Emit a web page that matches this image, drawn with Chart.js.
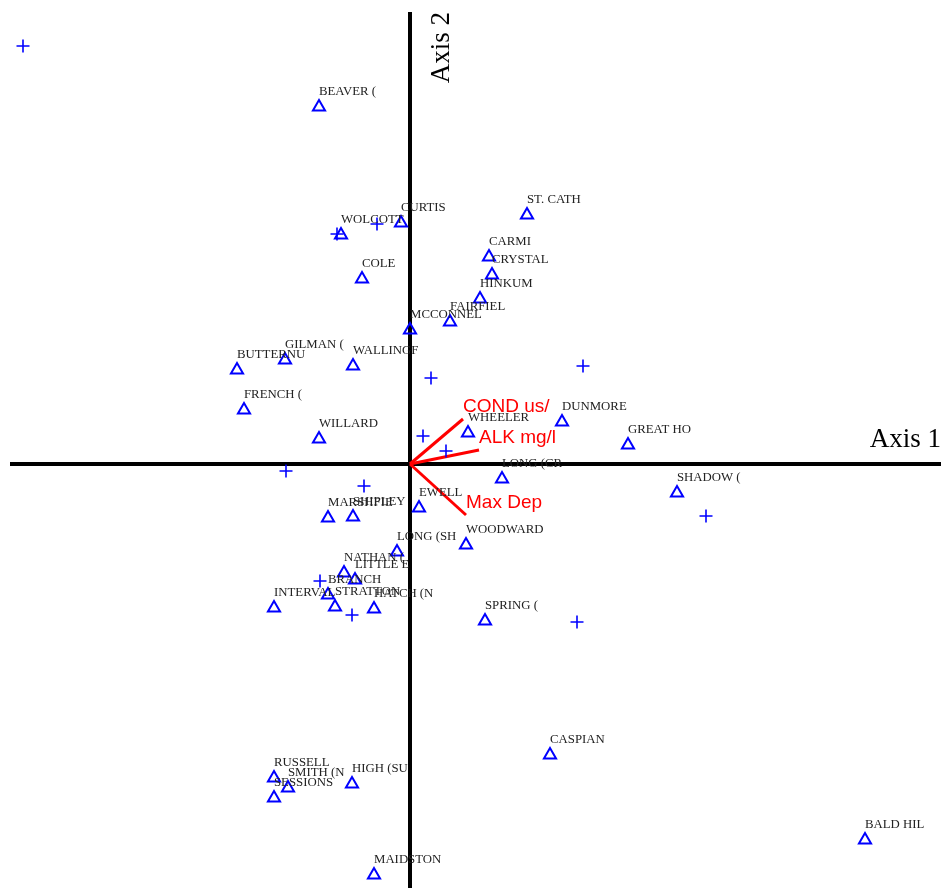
<!DOCTYPE html>
<html>
<head>
<meta charset="utf-8">
<script src="https://cdn.jsdelivr.net/npm/chart.js@4"></script>
<style>
  body { margin: 0; background: #fff; }
  canvas { display: block; }
</style>
</head>
<body>
<canvas id="chart" width="941" height="888"></canvas>
<script>
// site scores (axis 1, axis 2)
const siteNames = ['BEAVER (', 'WOLCOTT', 'CURTIS', 'ST. CATH', 'CARMI', 'CRYSTAL', 'COLE', 'HINKUM',
    'FAIRFIEL', 'MCCONNEL', 'GILMAN (', 'BUTTERNU', 'WALLINGF', 'FRENCH (', 'WILLARD', 'WHEELER',
    'DUNMORE', 'GREAT HO', 'LONG (CR', 'SHADOW (', 'EWELL', 'MARSHFIE', 'SHIPLEY', 'WOODWARD',
    'LONG (SH', 'NATHAN (', 'LITTLE E', 'BRANCH', 'STRATTON', 'INTERVAL', 'HATCH (N', 'SPRING (',
    'CASPIAN', 'RUSSELL', 'SMITH (N', 'SESSIONS', 'HIGH (SU', 'MAIDSTON', 'BALD HIL'];
const siteAxis1 = [-0.91, -0.69, -0.09, 1.17, 0.79, 0.82, -0.48, 0.70,
    0.40, 0.00, -1.25, -1.73, -0.57, -1.66, -0.91, 0.58,
    1.52, 2.18, 0.92, 2.67, 0.09, -0.82, -0.57, 0.56,
    -0.13, -0.66, -0.55, -0.82, -0.75, -1.36, -0.36, 0.75,
    1.40, -1.36, -1.22, -1.36, -0.58, -0.36, 4.55];
const siteAxis2 = [3.57, 2.29, 2.41, 2.49, 2.07, 1.89, 1.85, 1.65,
    1.42, 1.34, 1.04, 0.94, 0.98, 0.54, 0.25, 0.31,
    0.42, 0.19, -0.15, -0.29, -0.44, -0.54, -0.53, -0.81,
    -0.88, -1.09, -1.16, -1.31, -1.43, -1.44, -1.45, -1.57,
    -2.91, -3.14, -3.24, -3.34, -3.20, -4.11, -3.76];

// species scores (unlabelled crosses)
const speciesAxis1 = [-3.87, -0.33, -0.73, 1.73, 0.21, 0.13, 0.36, -1.24, -0.46, 2.96, -0.90, -0.58, 1.67];
const speciesAxis2 = [4.18, 2.40, 2.30, 0.98, 0.86, 0.28, 0.13, -0.07, -0.22, -0.52, -1.17, -1.51, -1.58];

// environmental vectors
const vectorNames = ['COND us/', 'ALK mg/l', 'Max Dep'];
const vectorAxis1 = [0.53, 0.69, 0.56];
const vectorAxis2 = [0.45, 0.14, -0.51];

const axisTitles = ['Axis 1', 'Axis 2'];

const zip = (xs, ys) => xs.map((x, i) => ({ x: x, y: ys[i] }));

const datasets = [
    {
        label: 'sites',
        data: zip(siteAxis1, siteAxis2),
        pointStyle: 'triangle',
        pointRadius: 7,
        borderColor: '#0000ff',
        backgroundColor: 'rgba(0,0,0,0)',
        borderWidth: 2
    },
    {
        label: 'species',
        data: zip(speciesAxis1, speciesAxis2),
        pointStyle: 'cross',
        pointRadius: 6.5,
        borderColor: '#0000ff',
        borderWidth: 1.6
    }
];

vectorNames.forEach((name, i) => {
    datasets.push({
        label: name,
        data: [{ x: 0, y: 0 }, { x: vectorAxis1[i], y: vectorAxis2[i] }],
        showLine: true,
        borderColor: '#ff0000',
        borderWidth: 3,
        pointRadius: 0
    });
});

// black axes through the origin, drawn under the marks
const axesPlugin = {
    id: 'axes',
    beforeDatasetsDraw(chart) {
        const ctx = chart.ctx;
        const area = chart.chartArea;
        const x0 = chart.scales.x.getPixelForValue(0);
        const y0 = chart.scales.y.getPixelForValue(0);
        ctx.save();
        ctx.strokeStyle = '#000';
        ctx.lineWidth = 4;
        ctx.beginPath();
        ctx.moveTo(area.left + 10, y0);
        ctx.lineTo(area.right, y0);
        ctx.moveTo(x0, area.top + 12);
        ctx.lineTo(x0, area.bottom);
        ctx.stroke();
        ctx.restore();
    }
};

const labelsPlugin = {
    id: 'labels',
    afterDatasetsDraw(chart) {
        const ctx = chart.ctx;
        const xs = chart.scales.x;
        const ys = chart.scales.y;
        ctx.save();

        ctx.font = '12.8px "Liberation Serif"';
        ctx.fillStyle = '#222';
        ctx.textAlign = 'left';
        ctx.textBaseline = 'middle';
        siteNames.forEach((name, i) => {
            ctx.fillText(name, xs.getPixelForValue(siteAxis1[i]), ys.getPixelForValue(siteAxis2[i]) - 15);
        });

        ctx.font = '19px "Liberation Sans"';
        ctx.fillStyle = '#ff0000';
        vectorNames.forEach((name, i) => {
            ctx.fillText(name, xs.getPixelForValue(vectorAxis1[i]), ys.getPixelForValue(vectorAxis2[i]) - 12);
        });

        // axis titles
        const area = chart.chartArea;
        const x0 = xs.getPixelForValue(0);
        const y0 = ys.getPixelForValue(0);
        ctx.font = '27px "Liberation Serif"';
        ctx.fillStyle = '#000';
        ctx.textAlign = 'right';
        ctx.textBaseline = 'alphabetic';
        ctx.fillText(axisTitles[0], area.right, y0 - 17);
        ctx.translate(x0 + 39, area.top + 12);
        ctx.rotate(-Math.PI / 2);
        ctx.fillText(axisTitles[1], 0, 0);
        ctx.restore();
    }
};

new Chart(document.getElementById('chart'), {
    type: 'scatter',
    data: { datasets: datasets },
    options: {
        responsive: false,
        animation: false,
        layout: { padding: 0, autoPadding: false },
        scales: {
            x: { type: 'linear', min: -4.10, max: 5.31, display: false },
            y: { type: 'linear', min: -4.24, max: 4.64, display: false }
        },
        plugins: {
            legend: { display: false },
            tooltip: { enabled: false }
        }
    },
    plugins: [axesPlugin, labelsPlugin]
});
</script>
</body>
</html>
